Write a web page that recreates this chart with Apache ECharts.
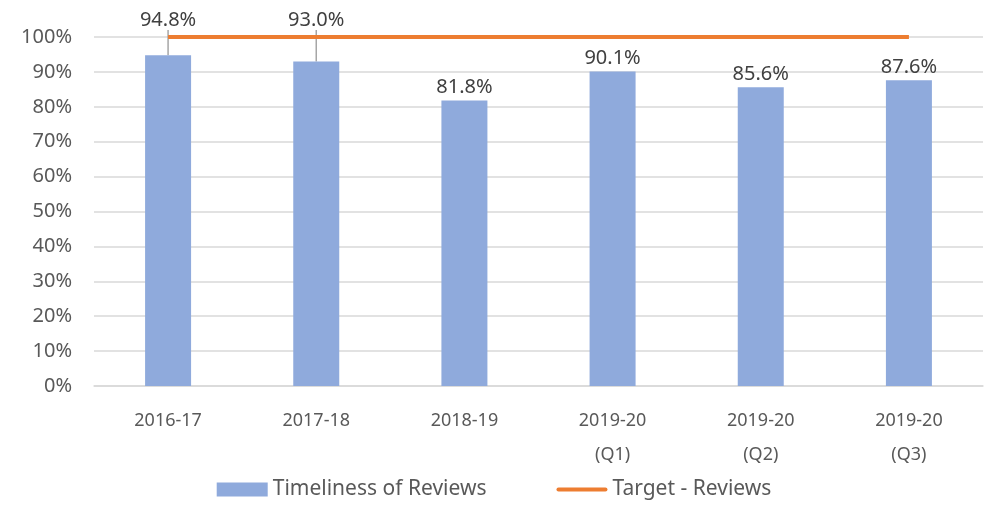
<!DOCTYPE html>
<html>
<head>
<meta charset="utf-8">
<script src="https://cdn.jsdelivr.net/npm/echarts@6/dist/echarts.min.js"></script>
<style>
  html, body { margin: 0; padding: 0; background: #fff; }
  #chart { width: 988px; height: 508px; }
</style>
</head>
<body>
<div id="chart"></div>
<script>
const categories = ['2016-17', '2017-18', '2018-19', '2019-20\n(Q1)', '2019-20\n(Q2)', '2019-20\n(Q3)'];
const timeliness = [94.8, 93.0, 81.8, 90.1, 85.6, 87.6];
const target = [100, 100, 100, 100, 100, 100];
const yTicks = [0, 10, 20, 30, 40, 50, 60, 70, 80, 90, 100];
// the first two labels sit above the target line, joined to their bars by a leader line
const raisedLabels = [0, 1];

const font = 'Noto Sans';
const chart = echarts.init(document.getElementById('chart'));

chart.setOption({
  animation: false,
  grid: { left: 94, right: 5, top: 37, bottom: 122 },
  legend: {
    bottom: 3,
    left: 'center',
    itemGap: 70,
    itemWidth: 51,
    itemHeight: 14,
    textStyle: { fontFamily: font, fontSize: 21, color: '#595959' },
    data: [
      { name: 'Timeliness of Reviews', icon: 'rect' },
      { name: 'Target - Reviews', icon: 'path://M2,0H48A2,2 0 0 1 48,4H2A2,2 0 0 1 2,0Z' }
    ]
  },
  xAxis: {
    type: 'category',
    data: categories,
    axisLine: { lineStyle: { color: '#D9D9D9', width: 1.5 } },
    axisTick: { show: false },
    axisLabel: { fontFamily: font, fontSize: 18, color: '#595959', margin: 18, lineHeight: 34 }
  },
  yAxis: {
    type: 'value',
    min: 0,
    max: 100,
    interval: 10,
    axisLine: { show: false },
    axisTick: { show: false },
    splitLine: { lineStyle: { color: '#D9D9D9', width: 1.5 } },
    axisLabel: {
      fontFamily: font, fontSize: 20, color: '#595959', margin: 22,
      formatter: v => yTicks.includes(v) ? v + '%' : ''
    }
  },
  series: [
    {
      name: 'Timeliness of Reviews',
      type: 'bar',
      data: timeliness.map((v, i) => ({
        value: v,
        labelLine: { show: raisedLabels.includes(i) }
      })),
      barWidth: 46,
      itemStyle: { color: '#8FAADC' },
      label: {
        show: true,
        position: 'top',
        distance: 3,
        fontFamily: font,
        fontSize: 20,
        color: '#404040',
        formatter: p => p.value.toFixed(1) + '%'
      },
      labelLine: { lineStyle: { color: '#A6A6A6', width: 1.5 } },
      labelLayout: p => raisedLabels.includes(p.dataIndex)
        ? { x: p.rect.x + p.rect.width / 2, y: 20, align: 'center', verticalAlign: 'middle' }
        : {}
    },
    {
      name: 'Target - Reviews',
      type: 'line',
      data: target,
      symbol: 'none',
      lineStyle: { color: '#ED7D31', width: 4 },
      itemStyle: { color: '#ED7D31' },
      z: 3
    }
  ]
});
</script>
</body>
</html>
